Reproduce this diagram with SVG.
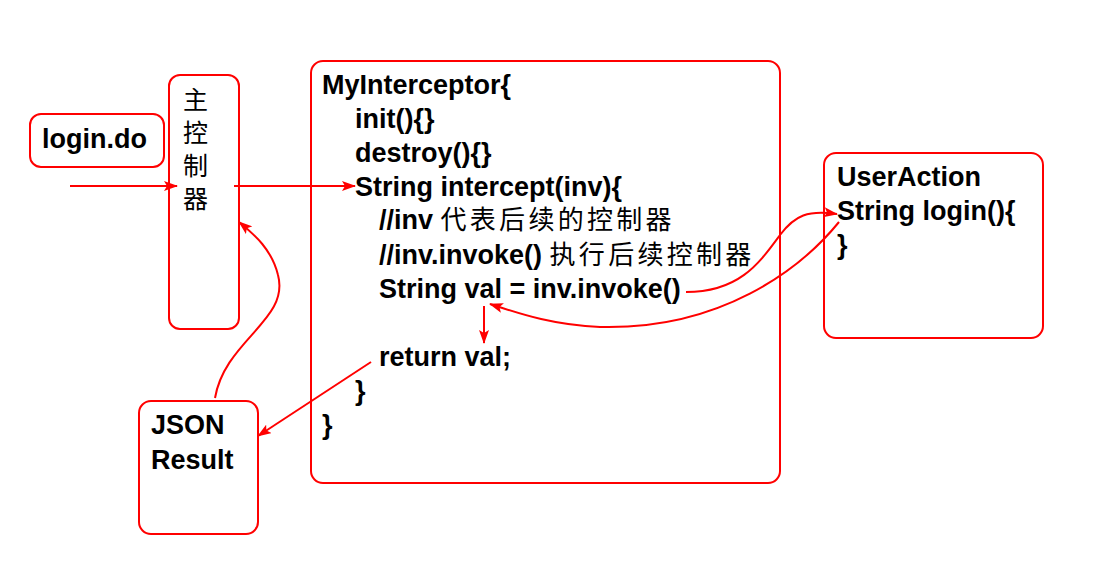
<svg xmlns="http://www.w3.org/2000/svg" width="1098" height="576" viewBox="0 0 1098 576">
<style>
.box{fill:#fff;stroke:#ff0000;stroke-width:2}
.t{font-family:"Liberation Sans",Arial,sans-serif;font-weight:bold;font-size:27px;fill:#000}
.cj{font-family:"Noto Sans CJK SC",sans-serif;font-weight:normal;font-size:26px;letter-spacing:3.3px}
.v{font-family:"Noto Sans CJK SC",sans-serif;font-size:25px;fill:#000}
.c{fill:none;stroke:#ff0000;stroke-width:2}
</style>
<defs>
<marker id="ah" viewBox="0 0 14 10" refX="13" refY="5" markerWidth="14" markerHeight="10" markerUnits="userSpaceOnUse" orient="auto">
<path d="M0,0 L14,5 L0,10 L3,5 Z" fill="#ff0000"/>
</marker>
</defs>
<rect width="1098" height="576" fill="#fff"/>
<g id="login">
<rect class="box" x="30" y="114" width="134" height="53" rx="11"/>
<text class="t" x="42" y="148">login.do</text>
</g>
<g id="controller">
<rect class="box" x="169" y="75" width="70" height="254" rx="11"/>
<text class="v" x="183" y="109">主</text>
<text class="v" x="183" y="142">控</text>
<text class="v" x="183" y="175">制</text>
<text class="v" x="183" y="208">器</text>
</g>
<g id="interceptor">
<rect class="box" x="311" y="61" width="469" height="422" rx="12"/>
<text class="t" x="322" y="94">MyInterceptor{</text>
<text class="t" x="355" y="128">init(){}</text>
<text class="t" x="355" y="162">destroy(){}</text>
<text class="t" x="355" y="196">String intercept(inv){</text>
<text class="t" x="379" y="229">//inv <tspan class="cj">代表后续的控制器</tspan></text>
<text class="t" x="379" y="264">//inv.invoke() <tspan class="cj">执行后续控制器</tspan></text>
<text class="t" x="379" y="298">String val = inv.invoke()</text>
<text class="t" x="379" y="366">return val;</text>
<text class="t" x="355" y="400">}</text>
<text class="t" x="322" y="434">}</text>
</g>
<g id="useraction">
<rect class="box" x="824" y="153" width="219" height="185" rx="12"/>
<text class="t" x="837" y="186">UserAction</text>
<text class="t" x="837" y="220">String login(){</text>
<text class="t" x="837" y="254">}</text>
</g>
<g id="json">
<rect class="box" x="139" y="401" width="119" height="133" rx="12"/>
<text class="t" x="151" y="434">JSON</text>
<text class="t" x="151" y="469">Result</text>
</g>
<g id="connectors">
<path class="c" d="M70,186 L177,186" marker-end="url(#ah)"/>
<path class="c" d="M234,186 L355,186" marker-end="url(#ah)"/>
<path class="c" d="M686,292 C740,292 760,262 780,235 C795,215 808,210 837,214" marker-end="url(#ah)"/>
<path class="c" d="M839,222 C800,270 720,330 600,327 C550,325 515,312 490,304" marker-end="url(#ah)"/>
<path class="c" d="M484,306 L484,343" marker-end="url(#ah)"/>
<path class="c" d="M371,362 L258,436" marker-end="url(#ah)"/>
<path class="c" d="M215,398 C225,340 290,320 278,275 C272,250 255,235 239,222" marker-end="url(#ah)"/>
</g>
</svg>
